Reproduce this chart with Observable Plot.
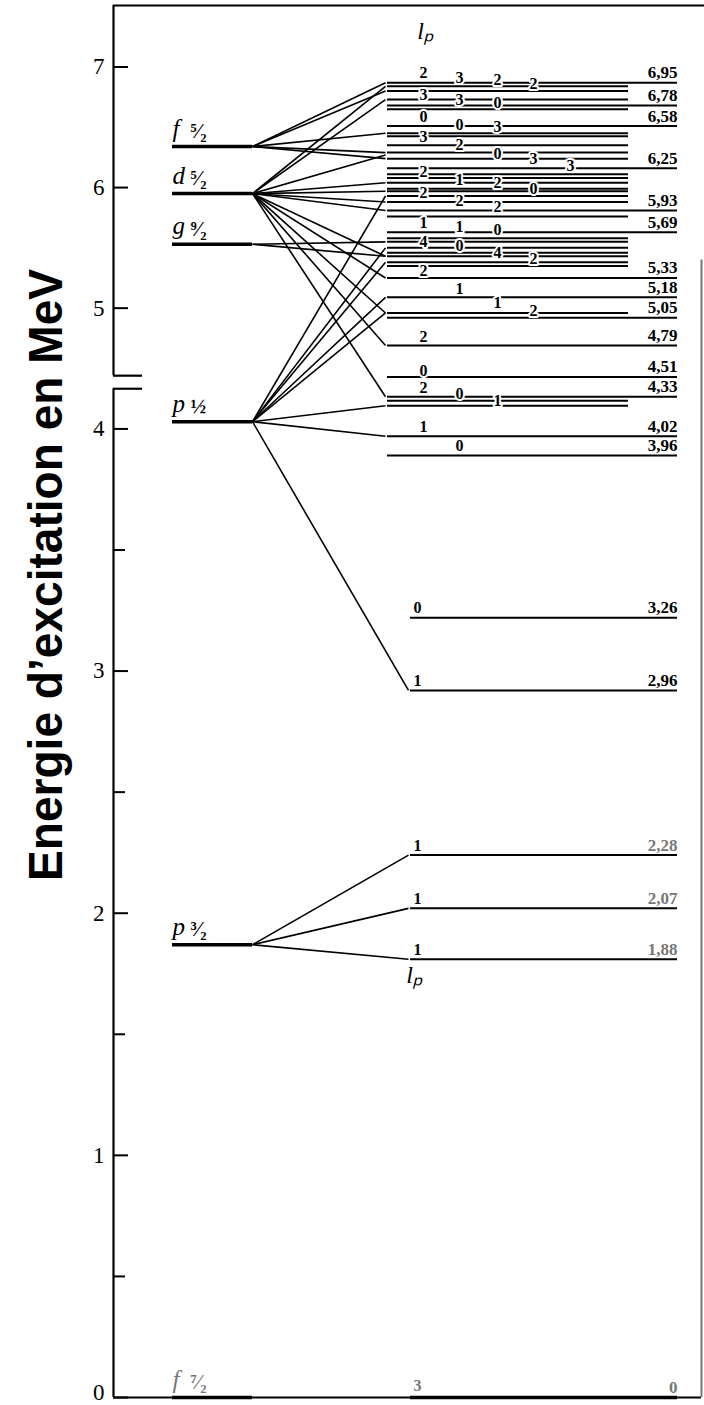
<!DOCTYPE html>
<html><head><meta charset="utf-8">
<script src="https://cdn.jsdelivr.net/npm/d3@7"></script>
<script src="https://cdn.jsdelivr.net/npm/@observablehq/plot@0.6"></script>
<style>body{margin:0;background:#fff}#chart svg{display:block}</style>
</head><body><div id="chart"></div>
<script>
// ---------------- data ----------------
const yTitle = "Energie d’excitation en MeV";
const tickLower = [1, 2, 3, 4];
const tickZero = [0];
const tickUpper = [5, 6, 7];
const tickMinor = [0.5, 1.5, 2.5, 3.5];

// single-particle (shell model) states, left column
const shellName = ["f7/2", "p3/2", "p1/2", "g9/2", "d5/2", "f5/2"];
const shellLetter = ["f", "p", "p", "g", "d", "f"];
const shellFrac = ["⁷⁄₂", "³⁄₂", "½", "⁹⁄₂", "⁵⁄₂", "⁵⁄₂"];
const shellEnergy = [0, 1.87, 4.03, 5.53, 5.95, 6.34];

// labelled experimental levels: drawn position (MeV) and quoted energy
const levelPos = [6.87, 6.68, 6.51, 6.16, 5.81, 5.63, 5.25, 5.09, 4.92, 4.69, 4.43, 4.133, 3.97, 3.89, 3.22, 2.92, 2.24, 2.02, 1.81, 0];
const levelText = ["6,95", "6,78", "6,58", "6,25", "5,93", "5,69", "5,33", "5,18", "5,05", "4,79", "4,51", "4,33", "4,02", "3,96", "3,26", "2,96", "2,28", "2,07", "1,88", "0"];
// unlabelled levels inside the dense groups
const extraPos = [6.84, 6.80, 6.73, 6.65, 6.45, 6.425, 6.35, 6.29, 6.24, 6.11, 6.08, 6.04, 5.99, 5.97, 5.93, 5.88, 5.76, 5.58, 5.55, 5.50, 5.46, 5.43, 5.38, 5.35, 4.96, 4.116, 4.096];

// transferred orbital momentum l_p written on the levels
const lpPos  = [6.95, 6.91, 6.89, 6.86, 6.77, 6.73, 6.70, 6.59, 6.52, 6.50, 6.42, 6.35, 6.28, 6.24, 6.18, 6.13, 6.06, 6.035, 5.99, 5.96, 5.89, 5.84, 5.71, 5.67, 5.65, 5.55, 5.52, 5.46, 5.41, 5.31, 5.16, 5.04, 4.98, 4.76, 4.48, 4.17, 4.145, 4.116, 4.01, 3.93, 3.26, 2.96, 2.28, 2.06, 1.85, 0.05];
const lpSlot = [0, 1, 2, 3, 0, 1, 2, 0, 1, 2, 0, 1, 2, 3, 4, 0, 1, 2, 3, 0, 1, 2, 0, 1, 2, 0, 1, 2, 3, 0, 1, 2, 3, 0, 0, 0, 1, 2, 0, 1, 0, 0, 0, 0, 0, 0];
const lpValue = ["2", "3", "2", "2", "3", "3", "0", "0", "0", "3", "3", "2", "0", "3", "3", "2", "1", "2", "0", "2", "2", "2", "1", "1", "0", "4", "0", "4", "2", "2", "1", "1", "2", "2", "0", "2", "0", "1", "1", "0", "0", "1", "1", "1", "1", "3"];

// fan lines: shell state -> level (drawn position)
const connShell = ["f5/2", "f5/2", "f5/2", "f5/2", "f5/2",
  "d5/2", "d5/2", "d5/2", "d5/2", "d5/2", "d5/2", "d5/2", "d5/2", "d5/2", "d5/2", "d5/2", "d5/2",
  "g9/2", "g9/2",
  "p1/2", "p1/2", "p1/2", "p1/2", "p1/2", "p1/2", "p1/2", "p1/2",
  "p3/2", "p3/2", "p3/2"];
const connTarget = [6.87, 6.80, 6.45, 6.29, 6.24,
  6.84, 6.73, 6.27, 6.04, 5.97, 5.88, 5.81, 5.43, 5.25, 4.96, 4.69, 4.133,
  5.55, 5.43,
  5.93, 5.50, 5.38, 5.09, 4.96, 4.096, 3.97, 2.92,
  2.24, 2.02, 1.81];

// ---------------- layout (pixels) ----------------
const col = {axis: 113, tick: 128, minor: 125, tickLabel: 104, foot: 142, shellStart: 172, shellEnd: 252,
  fracX: 190, levelStart: 387, lowStart: 410, shortEnd: 628, longEnd: 677, frameRight: 701,
  slots: [423, 459, 497, 533, 570], lowSlot: 417, yTop: 7.51, breakLow: 4.166, breakHigh: 4.44};
const lowLimit = 3.5;   // levels drawn with the lower (expanded) layout
const fadeLimit = 2.5;  // the scan's energy labels are faded below this energy
const serif = "Liberation Serif, Times New Roman, serif";

const shellE = Object.fromEntries(shellName.map((n, i) => [n, shellEnergy[i]]));
const shells = shellName.map((n, i) => ({n, letter: shellLetter[i], frac: shellFrac[i], e: shellEnergy[i]}));
const levels = levelPos.map((e, i) => ({e, text: levelText[i]}));
const extras = extraPos.map(e => ({e}));
const lps = lpPos.map((e, i) => ({e, slot: lpSlot[i], lp: lpValue[i]}));
const conns = connShell.map((s, i) => ({s, e0: shellE[s], e1: connTarget[i]}));
const startOf = e => e < lowLimit ? col.lowStart : col.levelStart;
const lpX = d => d.e < lowLimit && d.slot === 0 ? col.lowSlot : col.slots[d.slot];
const labelInk = e => e < fadeLimit ? "#777" : "black";
const groundInk = e => e < 0.5 ? "#777" : "black";

const chart = Plot.plot({
  width: 704, height: 1405, margin: 0,
  style: {background: "white"},
  x: {domain: [0, 704], range: [0, 704], axis: null},
  y: {type: "linear", domain: [0, 4.2, 4.4, col.yTop], range: [1397, 380, 380, 5], axis: null},
  marks: [
    // frame and broken axis
    Plot.ruleY([col.yTop], {x1: col.axis, x2: 704, stroke: "black", strokeWidth: 2}),
    Plot.ruleY([0], {x1: col.axis, x2: col.frameRight, stroke: "black", strokeWidth: 2}),
    Plot.ruleX([col.frameRight], {y1: 5.4, y2: 0, stroke: "#777", strokeWidth: 2}),
    Plot.ruleX([col.axis], {y1: col.breakHigh, y2: col.yTop, stroke: "black", strokeWidth: 2.2}),
    Plot.ruleX([col.axis], {y1: 0, y2: col.breakLow, stroke: "black", strokeWidth: 2.2}),
    Plot.ruleY([col.breakHigh, col.breakLow], {x1: col.axis, x2: col.foot, stroke: "black", strokeWidth: 2.2}),
    Plot.ruleY([...tickZero, ...tickLower, ...tickUpper], {x1: col.axis, x2: col.tick, stroke: "black", strokeWidth: 2}),
    Plot.ruleY(tickMinor, {x1: col.axis, x2: col.minor, stroke: "black", strokeWidth: 2}),
    Plot.text([...tickLower, ...tickUpper], {x: col.tickLabel, y: d => d, text: d => String(d), textAnchor: "end",
      fontFamily: serif, fontSize: 23, fill: "black"}),
    Plot.text(tickZero, {x: col.tickLabel, y: d => d, dy: -5, text: d => String(d), textAnchor: "end",
      fontFamily: serif, fontSize: 23, fill: "black"}),
    Plot.text([yTitle], {frameAnchor: "left", dx: 46, dy: -128, rotate: -90, textAnchor: "middle",
      fontFamily: "Liberation Sans, Arial, sans-serif", fontWeight: "bold", fontSize: 48, fill: "black"}),

    // fan lines
    Plot.link(conns, {x1: col.shellEnd, y1: "e0", x2: d => startOf(d.e1) - 2, y2: "e1", stroke: "black", strokeWidth: 1.6}),

    // shell model states
    Plot.ruleY(shells, {y: "e", x1: col.shellStart, x2: col.shellEnd, stroke: "black", strokeWidth: 3.5}),
    Plot.text(shells, {x: col.shellStart, y: "e", dy: -18, text: "letter", textAnchor: "start", fill: d => groundInk(d.e),
      fontFamily: serif, fontStyle: "italic", fontSize: 25}),
    Plot.text(shells, {x: col.fracX, y: "e", dy: -15, text: "frac", textAnchor: "start", fill: d => groundInk(d.e),
      fontFamily: serif, fontWeight: "bold", fontSize: 21}),

    // experimental levels
    Plot.ruleY(extras, {y: "e", x1: d => startOf(d.e), x2: col.shortEnd, stroke: "black", strokeWidth: 2}),
    Plot.ruleY(levels, {y: "e", x1: d => startOf(d.e), x2: col.longEnd, stroke: "black",
      strokeWidth: d => d.e === 0 ? 3.5 : 2}),
    Plot.text(levels, {x: col.longEnd, y: "e", dy: -10, text: "text", textAnchor: "end", fill: d => labelInk(d.e),
      fontFamily: serif, fontWeight: "bold", fontSize: 17}),

    // l_p values (white halo cuts the lines)
    Plot.text(lps, {x: lpX, y: "e", text: "lp", fill: "white", stroke: "white", strokeWidth: 4,
      fontFamily: serif, fontWeight: "bold", fontSize: 16}),
    Plot.text(lps, {x: lpX, y: "e", text: "lp", fill: d => groundInk(d.e),
      fontFamily: serif, fontWeight: "bold", fontSize: 16}),
    Plot.text(["lₚ"], {x: 425, y: 7.30, text: d => d, fontFamily: serif, fontStyle: "italic", fontSize: 24, fill: "black"}),
    Plot.text(["lₚ"], {x: 414, y: 1.743, text: d => d, fontFamily: serif, fontStyle: "italic", fontSize: 24, fill: "black"})
  ]
});
d3.select(chart).selectAll("text").filter(function() { return this.textContent === yTitle; })
  .attr("textLength", 612).attr("lengthAdjust", "spacingAndGlyphs");
document.getElementById("chart").append(chart);
</script>
</body></html>
